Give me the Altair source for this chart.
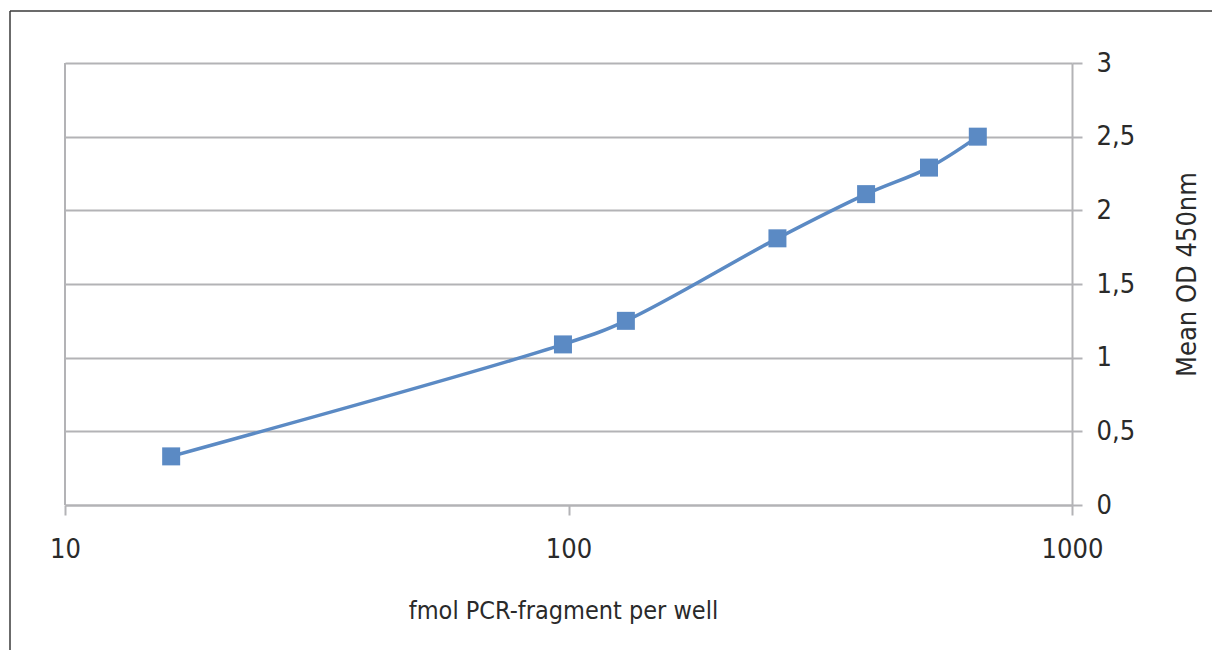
import altair as alt
import pandas as pd

fmol = [16.25, 97.5, 130, 260, 390, 520, 650]
od = [0.33, 1.09, 1.25, 1.81, 2.11, 2.29, 2.50]
x_ticks = [10, 100, 1000]
y_ticks = [0, 0.5, 1, 1.5, 2, 2.5, 3]

df = pd.DataFrame({"fmol": fmol, "od": od})

FONT = "'Liberation Sans Narrow', 'DejaVu Sans Condensed', 'Roboto', sans-serif"
GRID = "#b3b3b6"
BLUE = "#5b8ac4"
TXT = "#2a2a2a"

xs = alt.Scale(type="log", domain=[10, 1000], nice=False)
ys = alt.Scale(domain=[0, 3], nice=False, zero=True)

x_enc = alt.X(
    "fmol:Q", scale=xs,
    axis=alt.Axis(
        values=x_ticks, title="fmol PCR-fragment per well", grid=False,
        labelExpr="toString(datum.value)",
        domainColor=GRID, domainWidth=2, tickColor=GRID, tickWidth=2, tickSize=10,
        labelPadding=21, labelFontSize=27, labelColor=TXT, labelFont=FONT,
        labelFlush=False,
        titleFont=FONT, titleFontSize=25, titleFontWeight="normal", titleColor=TXT,
        titleX=498, titleY=113, titleBaseline="alphabetic", titleAlign="center",
    ),
)
y_enc = alt.Y(
    "od:Q", scale=ys,
    axis=alt.Axis(
        orient="right", values=y_ticks, title="Mean OD 450nm",
        labelExpr="replace(toString(datum.value), '.', ',')",
        grid=True, gridColor=GRID, gridWidth=2,
        domainColor=GRID, domainWidth=2, tickColor=GRID, tickWidth=2, tickSize=10,
        labelPadding=14, labelFontSize=27, labelColor=TXT, labelFont=FONT,
        titleFont=FONT, titleFontSize=27, titleFontWeight="normal", titleColor=TXT,
        titleAngle=270, titleX=115, titleY=211, titleAlign="center", titleBaseline="middle",
    ),
)

base = alt.Chart(df)

left_line = alt.Chart(pd.DataFrame({"v": [10]})).mark_rule(color=GRID, strokeWidth=2).encode(
    x=alt.X("v:Q", scale=xs)
)

line = base.mark_line(color=BLUE, strokeWidth=3.5, interpolate="catmull-rom").encode(x=x_enc, y=y_enc)
pts = base.mark_point(shape="square", filled=True, size=324, color=BLUE, opacity=1).encode(
    x=alt.X("fmol:Q", scale=xs), y=alt.Y("od:Q", scale=ys)
)

frame_left = alt.Chart(pd.DataFrame({"a": [0]})).mark_rule(color="#3a3a3a", strokeWidth=1.5).encode(
    x=alt.value(-55), y=alt.value(-52), y2=alt.value(620)
)
frame_top = alt.Chart(pd.DataFrame({"a": [0]})).mark_rule(color="#3a3a3a", strokeWidth=1.5).encode(
    x=alt.value(-55), x2=alt.value(1200), y=alt.value(-52)
)

chart = alt.layer(left_line, line, pts, frame_left, frame_top).properties(
    width=1007, height=442,
    autosize=alt.AutoSizeParams(type="none"),
    padding={"left": 57, "top": 55, "right": 140, "bottom": 145},
    background="white",
).configure_view(stroke=None)

chart.save("out.html", embed_options={"renderer": "svg", "actions": False})
